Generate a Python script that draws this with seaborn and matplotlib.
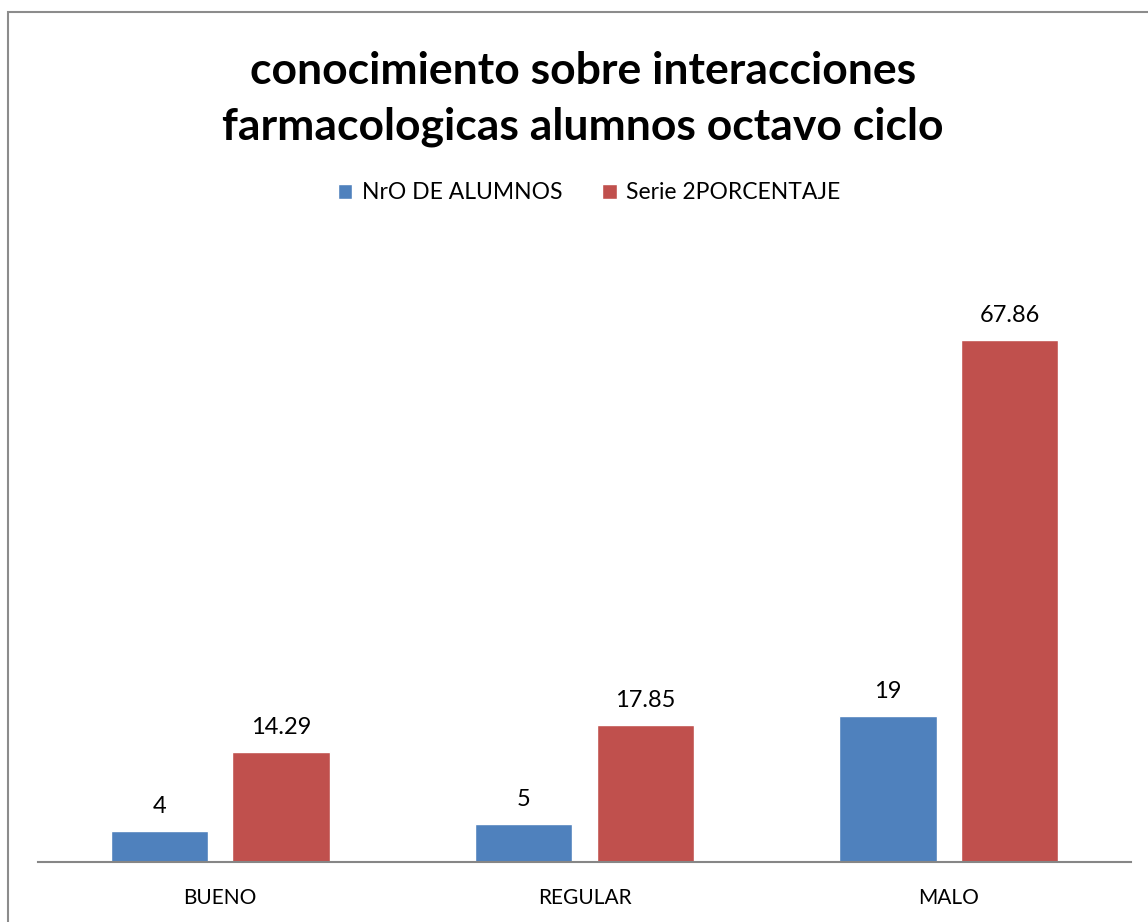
import pandas as pd
import matplotlib.pyplot as plt
import seaborn as sns
from matplotlib.patches import Rectangle

# --- data ---
categorias = ["BUENO", "REGULAR", "MALO"]
series = ["NrO DE ALUMNOS", "Serie 2PORCENTAJE"]
alumnos = [4, 5, 19]
porcentaje = [14.29, 17.85, 67.86]
etiquetas_alumnos = ["4", "5", "19"]
etiquetas_porcentaje = ["14.29", "17.85", "67.86"]

df = pd.DataFrame({
    "categoria": categorias * 2,
    "serie": [series[0]] * 3 + [series[1]] * 3,
    "valor": alumnos + porcentaje,
})

sns.set_style("white")
plt.rcParams["font.family"] = ["Lato", "DejaVu Sans"]
plt.rcParams["text.color"] = "black"
plt.rcParams["xtick.color"] = "black"

fig = plt.figure(figsize=(11.48, 9.22), dpi=100)
ax = fig.add_axes([38 / 1148, 60 / 922, 1093 / 1148, 615 / 922])

sns.barplot(data=df, x="categoria", y="valor", hue="serie",
            palette=["#4F81BD", "#C0504D"], width=0.667, gap=0.2,
            saturation=1, ax=ax, legend=True)

ax.bar_label(ax.containers[0], labels=etiquetas_alumnos, padding=10, fontsize=17)
ax.bar_label(ax.containers[1], labels=etiquetas_porcentaje, padding=10, fontsize=17)

ax.set_ylim(0, 80)
ax.set_xlim(-0.5, 2.5)
ax.set_xlabel("")
ax.set_ylabel("")
ax.set_yticks([])
ax.tick_params(axis="x", length=0, pad=19, labelsize=15, labelcolor="black")
for s in ["top", "right", "left"]:
    ax.spines[s].set_visible(False)
ax.spines["bottom"].set_color("#868686")
ax.spines["bottom"].set_linewidth(1.5)

leg = ax.legend(loc="center", bbox_to_anchor=((589 - 38) / 1093, (922 - 193 - 60) / 615),
                ncol=2, frameon=False, fontsize=16.5, handlelength=0.65, handleheight=0.65,
                handletextpad=0.4, columnspacing=1.75)

fig.text(583 / 1148, 1 - 99 / 922, "conocimiento sobre interacciones\nfarmacologicas alumnos octavo ciclo",
         ha="center", va="center", fontsize=32, fontweight="bold", linespacing=1.45,
         color="black")

# chart frame
fig.patches.append(Rectangle((8 / 1148, -0.1), 1.2, 1 - 12 / 922 + 0.1,
                             transform=fig.transFigure, fill=False,
                             edgecolor="#8c8c8c", linewidth=1.5))

plt.savefig("out.png", dpi=100)
